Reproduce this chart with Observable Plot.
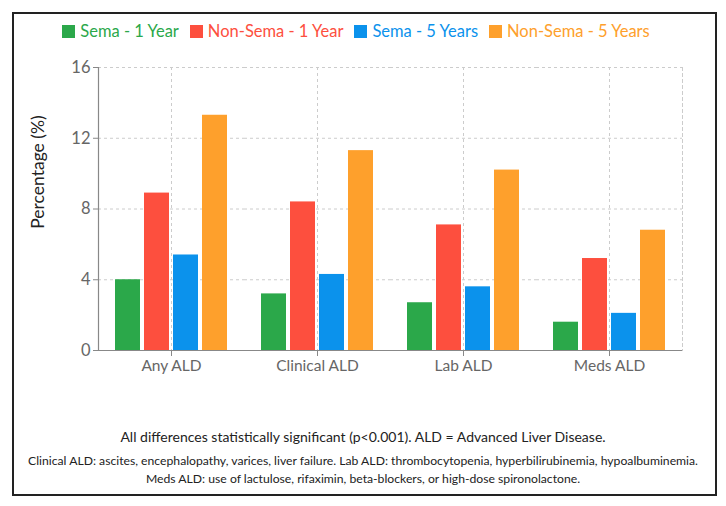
<!DOCTYPE html>
<html>
<head>
<meta charset="utf-8">
<script src="https://cdn.jsdelivr.net/npm/d3@7"></script>
<script src="https://cdn.jsdelivr.net/npm/@observablehq/plot@0.6"></script>
<style>
  html, body { margin: 0; padding: 0; background: #fff; }
  body { position: relative; width: 726px; height: 506px; overflow: hidden; font-family: Lato, "Noto Sans", sans-serif; }
  #box { position: absolute; left: 12px; top: 12px; width: 705px; height: 484px; border: 2px solid #222; box-sizing: border-box; }
  #legend { position: absolute; left: -7px; top: 21px; width: 726px; display: flex; justify-content: center; align-items: center; gap: 11px; font-size: 16.5px; }
  #legend .item { display: flex; align-items: center; }
  #legend .sw { width: 13px; height: 13px; margin-right: 5px; }
  #chart { position: absolute; left: 14px; top: 50px; }
  #ylabel { position: absolute; left: 37px; top: 172px; transform: translate(-50%, -50%) rotate(-90deg); font-size: 17.5px; color: #222; white-space: nowrap; }
  #caption { position: absolute; left: 0; width: 726px; top: 0; color: #222; }
  #caption div { position: absolute; left: 0; width: 726px; text-align: center; line-height: 18px; white-space: nowrap; }
  #caption .l0 { top: 428px; font-size: 14px; }
  #caption .l1 { top: 452px; font-size: 12.2px; }
  #caption .l2 { top: 470px; font-size: 12.2px; }
</style>
</head>
<body>
<div id="box"></div>
<div id="legend"></div>
<div id="ylabel"></div>
<div id="chart"></div>
<div id="caption"></div>
<script>
const categories = ["Any ALD", "Clinical ALD", "Lab ALD", "Meds ALD"];
const seriesNames = ["Sema - 1 Year", "Non-Sema - 1 Year", "Sema - 5 Years", "Non-Sema - 5 Years"];
const sema1Year = [4.0, 3.2, 2.7, 1.6];
const nonSema1Year = [8.9, 8.4, 7.1, 5.2];
const sema5Years = [5.4, 4.3, 3.6, 2.1];
const nonSema5Years = [13.3, 11.3, 10.2, 6.8];
const seriesColors = ["#2ba84a", "#fd4f3e", "#0b92ec", "#fea02c"];
const yTicks = [0, 4, 8, 12, 16];
const yLabel = "Percentage (%)";
const captionLines = [
  "All differences statistically significant (p<0.001). ALD = Advanced Liver Disease.",
  "Clinical ALD: ascites, encephalopathy, varices, liver failure. Lab ALD: thrombocytopenia, hyperbilirubinemia, hypoalbuminemia.",
  "Meds ALD: use of lactulose, rifaximin, beta-blockers, or high-dose spironolactone."
];

const seriesValues = [sema1Year, nonSema1Year, sema5Years, nonSema5Years];
const rows = [];
categories.forEach((c, i) => {
  seriesNames.forEach((s, j) => rows.push({category: c, series: s, value: seriesValues[j][i]}));
});

// Legend
const legend = document.getElementById("legend");
seriesNames.forEach((s, j) => {
  const item = document.createElement("div");
  item.className = "item";
  const sw = document.createElement("span");
  sw.className = "sw";
  sw.style.background = seriesColors[j];
  const t = document.createElement("span");
  t.textContent = s;
  t.style.color = seriesColors[j];
  item.append(sw, t);
  legend.append(item);
});

document.getElementById("ylabel").textContent = yLabel;

// Caption
const cap = document.getElementById("caption");
captionLines.forEach((line, i) => {
  const d = document.createElement("div");
  d.className = "l" + i;
  d.textContent = line;
  cap.append(d);
});

const chart = Plot.plot({
  width: 700,
  height: 330,
  marginLeft: 83,
  marginRight: 31,
  marginTop: 17,
  marginBottom: 30,
  style: {fontFamily: "Lato, 'Noto Sans', sans-serif", fontSize: "15px", background: "transparent", color: "#666", overflow: "visible"},
  fx: {domain: categories, padding: 0, label: null},
  x: {domain: seriesNames, paddingInner: 0.15, paddingOuter: 0.55, axis: null},
  y: {domain: [0, 16], label: null},
  color: {domain: seriesNames, range: seriesColors},
  marks: [
    Plot.gridY(yTicks.filter(d => d > 0), {stroke: "#ccc", strokeOpacity: 1, strokeDasharray: "3,3"}),
    Plot.gridFx({stroke: "#ccc", strokeOpacity: 1, strokeDasharray: "3,3"}),
    Plot.frame({anchor: "right", facetAnchor: "right", stroke: "#ccc", strokeDasharray: "3,3"}),
    Plot.barY(rows, {fx: "category", x: "series", y: "value", fill: "series"}),
    Plot.ruleY([0], {stroke: "#888", strokeWidth: 1.2}),
    Plot.frame({anchor: "left", facetAnchor: "left", stroke: "#888", strokeWidth: 1.2}),
    Plot.axisY({ticks: yTicks, tickSize: 5, tickPadding: 3, label: null, fill: "#666", stroke: "#888", fontSize: 16.5}),
    Plot.axisFx({anchor: "bottom", tickSize: 6, tickPadding: 3, label: null, fill: "#666", stroke: "#888", fontSize: 15.5})
  ]
});
document.getElementById("chart").append(chart);
</script>
</body>
</html>
